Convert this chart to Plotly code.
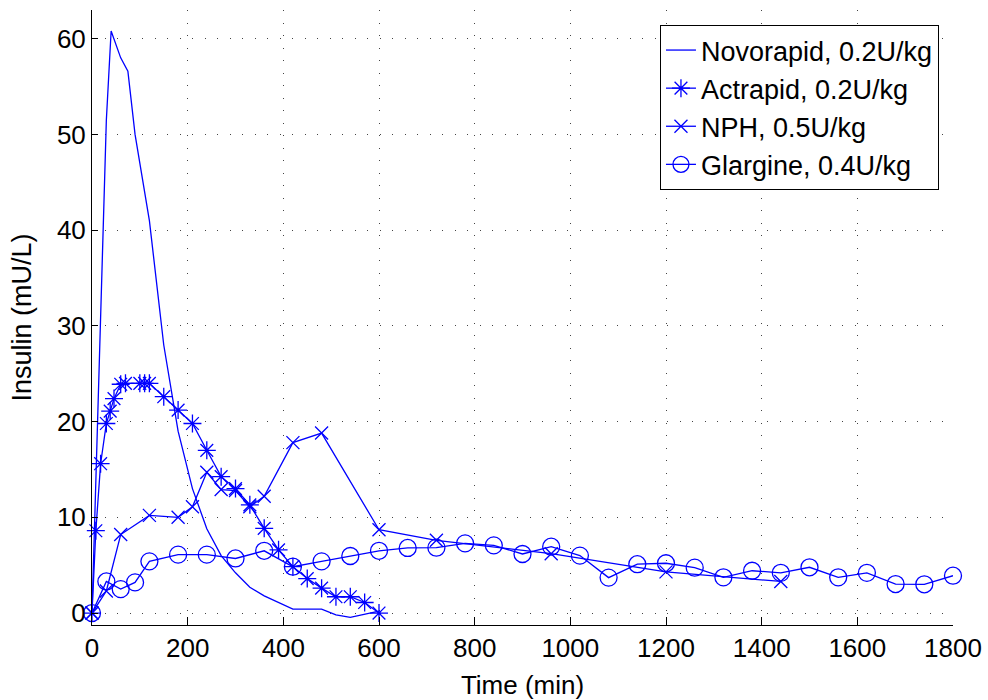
import plotly.graph_objects as go

# ---------------- data ----------------
novo_t = [0, 30, 40, 60, 75, 90, 120, 150, 180, 210, 240, 270, 300, 330, 360, 420, 480, 510, 540, 600]
novo_y = [0, 51.5, 60.8, 58.0, 56.6, 50.0, 41.0, 28.0, 19.0, 13.0, 8.8, 6.0, 4.2, 2.7, 1.8, 0.4, 0.4, -0.2, -0.45, 0.2]

actr_t = [0, 8, 18, 30, 38, 46, 60, 70, 100, 110, 120, 150, 180, 210, 240, 270, 300, 330, 360,
          390, 420, 450, 480, 510, 540, 570, 600]
actr_y = [0, 8.6, 15.6, 19.8, 21.1, 22.4, 23.9, 24.0, 24.0, 24.0, 24.0, 22.6, 21.2, 19.8, 17.0,
          14.25, 13.0, 11.3, 8.85, 6.6, 4.84, 3.6, 2.6, 1.7, 1.7, 1.1, 0.0]

nph_t = [0, 30, 60, 120, 180, 210, 240, 270, 300, 330, 360, 420, 480, 600, 720, 960, 1200, 1440]
nph_y = [0, 2.3, 8.2, 10.2, 10.0, 11.1, 14.7, 12.9, 12.8, 11.1, 12.2, 17.8, 18.8, 8.7, 7.6, 6.2, 4.3, 3.3]

glar_t = [0, 30, 60, 90, 120, 180, 240, 300, 360, 420, 480, 540, 600, 660, 720, 780, 840, 900, 960,
          1020, 1080, 1140, 1200, 1260, 1320, 1380, 1440, 1500, 1560, 1620, 1680, 1740, 1800]
glar_y = [0, 3.3, 2.5, 3.2, 5.4, 6.1, 6.1, 5.7, 6.5, 4.84, 5.4, 5.96, 6.5, 6.8, 6.83, 7.28, 7.07,
          6.17, 6.93, 6.0, 3.7, 5.1, 5.2, 4.74, 3.73, 4.42, 4.2, 4.78, 3.73, 4.2, 3.03, 3.0, 3.9]

x_ticks = [0, 200, 400, 600, 800, 1000, 1200, 1400, 1600, 1800]
y_ticks = [0, 10, 20, 30, 40, 50, 60]

names = ["Novorapid, 0.2U/kg", "Actrapid, 0.2U/kg", "NPH, 0.5U/kg", "Glargine, 0.4U/kg"]

BLUE = "#0000FF"
FONT = "Liberation Sans, Arial, Helvetica, sans-serif"

fig = go.Figure()
fig.add_trace(go.Scatter(x=novo_t, y=novo_y, mode="lines", name=names[0],
                         line=dict(color=BLUE, width=1.3), cliponaxis=False))
fig.add_trace(go.Scatter(x=actr_t, y=actr_y, mode="lines+markers", name=names[1],
                         line=dict(color=BLUE, width=1.3),
                         marker=dict(symbol="asterisk-open", size=15, color=BLUE,
                                     line=dict(color=BLUE, width=1.3)),
                         cliponaxis=False))
fig.add_trace(go.Scatter(x=nph_t, y=nph_y, mode="lines+markers", name=names[2],
                         line=dict(color=BLUE, width=1.3),
                         marker=dict(symbol="x-thin-open", size=13, color=BLUE,
                                     line=dict(color=BLUE, width=1.3)),
                         cliponaxis=False))
fig.add_trace(go.Scatter(x=glar_t, y=glar_y, mode="lines+markers", name=names[3],
                         line=dict(color=BLUE, width=1.3),
                         marker=dict(symbol="circle-open", size=17, color=BLUE,
                                     line=dict(color=BLUE, width=1.3)),
                         cliponaxis=False))

grid = dict(showgrid=True, gridcolor="#444444", gridwidth=1, griddash="1px,11.5px")

fig.update_xaxes(range=[0, 1800], tickvals=x_ticks, ticktext=[str(v) for v in x_ticks],
                 ticks="inside", ticklen=8, tickcolor="black", tickwidth=1,
                 showline=True, linecolor="black", linewidth=1, zeroline=False,
                 tickfont=dict(family=FONT, size=26, color="black"),
                 title=dict(text="Time (min)", font=dict(family=FONT, size=26, color="black"),
                            standoff=13),
                 **grid)
fig.update_yaxes(range=[-1.25, 63], tickvals=y_ticks, ticktext=[str(v) for v in y_ticks],
                 ticks="inside", ticklen=6, tickcolor="black", tickwidth=1,
                 showline=True, linecolor="black", linewidth=1, zeroline=False,
                 tickfont=dict(family=FONT, size=26, color="black"),
                 title=dict(text="Insulin (mU/L)", font=dict(family=FONT, size=27, color="black"),
                            standoff=17),
                 **grid)

fig.update_layout(
    width=988, height=700,
    margin=dict(l=92, r=35, t=10, b=75, autoexpand=False),
    paper_bgcolor="white", plot_bgcolor="white",
    font=dict(family=FONT, size=26, color="black"),
    showlegend=True,
    legend=dict(x=0.9837, y=0.9756, xanchor="right", yanchor="top",
                bgcolor="white", bordercolor="black", borderwidth=1,
                font=dict(family=FONT, size=27, color="black"),
                tracegroupgap=0, itemwidth=30, entrywidth=320, entrywidthmode="pixels"),
)

fig.write_html("out.html")
